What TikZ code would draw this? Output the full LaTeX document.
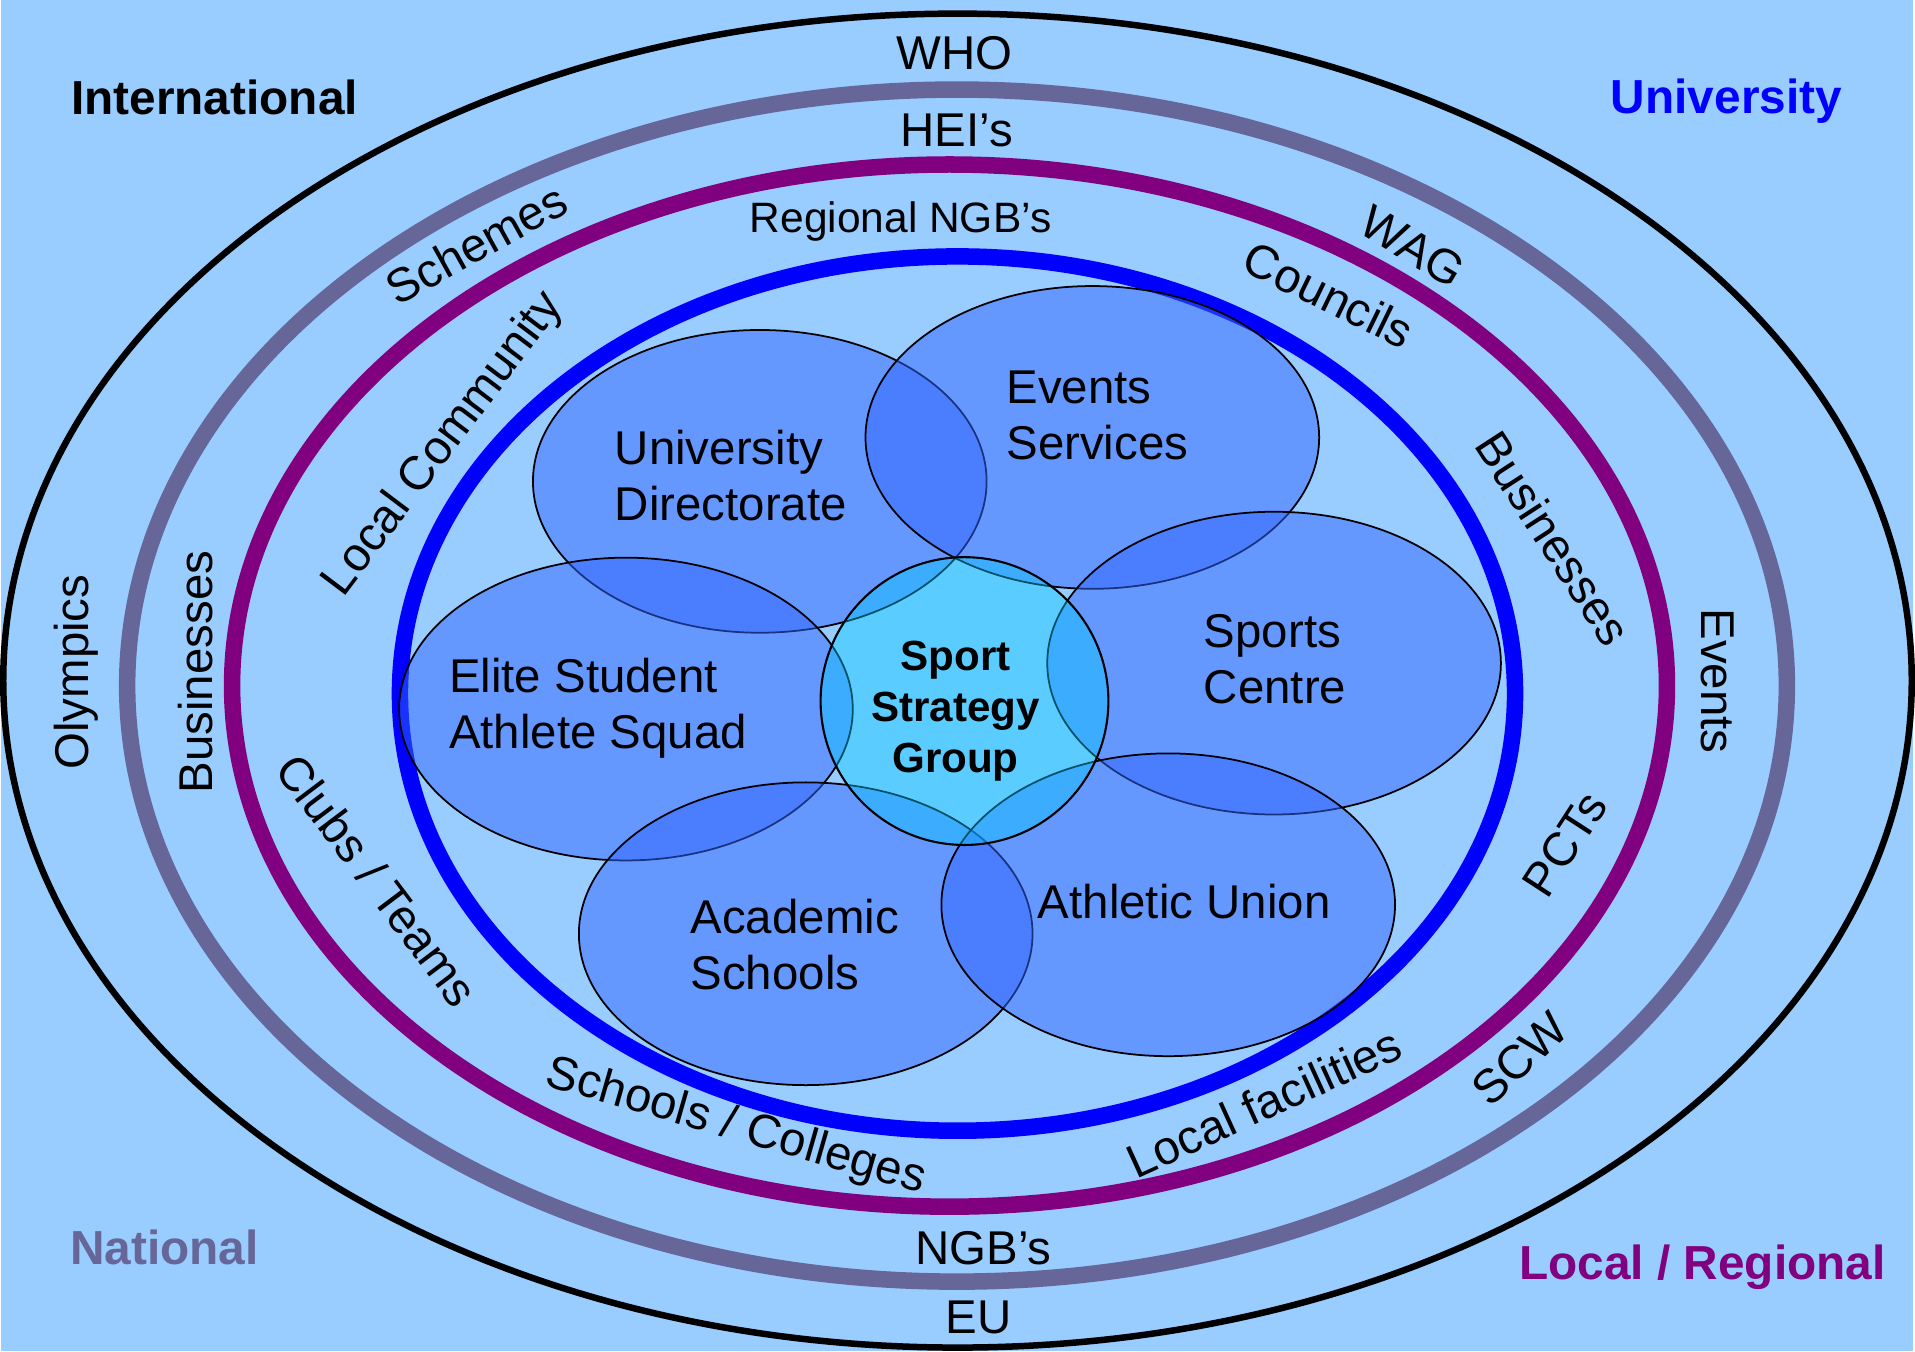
\documentclass[tikz,border=0pt]{standalone}
\usepackage{fontspec}
\setmainfont{Liberation Sans}
\definecolor{bg}{HTML}{99CCFF}
\definecolor{natgray}{HTML}{666699}
\definecolor{regpurple}{HTML}{800080}
\definecolor{uniblue}{HTML}{0000FF}
\definecolor{unitfill}{HTML}{3366FF}
\definecolor{corefill}{HTML}{00CCFF}
\tikzset{
  ring/.style={line width=4.7pt},
  lbl/.style={font=\fontsize{13.5}{15.5}\selectfont, inner sep=0pt},
  hdr/.style={font=\fontsize{13.6}{16}\selectfont\bfseries, inner sep=0pt},
  unit/.style={draw=black, line width=0.5pt, fill=unitfill, fill opacity=0.5},
  unittxt/.style={font=\fontsize{13.5}{15.9}\selectfont, align=left, inner sep=0pt},
  core/.style={draw=black, line width=0.6pt, fill=corefill, fill opacity=0.4},
  coretxt/.style={font=\fontsize{12}{14.5}\selectfont\bfseries, align=center, inner sep=0pt}
}

\begin{document}
\begin{tikzpicture}[x=0.01cm, y=-0.01cm]
  % background, fixes the page size
  \path[fill=bg] (0,0) rectangle (1915,1353);

  % rings
  \draw[line width=1.85pt] (958,681.5) ellipse [x radius=9.55cm, y radius=6.675cm];
  \draw[ring, natgray] (957.5,686.5) ellipse [x radius=8.305cm, y radius=5.965cm];
  \draw[ring, regpurple] (950,686.5) ellipse [x radius=7.18cm, y radius=5.215cm];
  \draw[ring, uniblue] (958,694.5) ellipse [x radius=5.58cm, y radius=4.375cm];

  % corner headers
  \node[hdr] (intl) at (214,98) {International};
  \node[hdr, text=uniblue] (univ) at (1728,101) {University};
  \node[hdr, text=natgray] (natl) at (164,1249) {National};
  \node[hdr, text=regpurple] (locreg) at (1704,1269) {Local / Regional};

  % ring labels
  \node[lbl] (who) at (955,53) {WHO};
  \node[lbl] (eu) at (979,1319) {EU};
  \node[lbl, rotate=90] (olymp) at (76,673) {Olympics};
  \node[lbl, rotate=-90] (events) at (1719,682) {Events};
  \node[lbl] (hei) at (957,131) {HEI’s};
  \node[lbl] (ngb) at (984,1250) {NGB’s};
  \node[lbl, rotate=29] (schemes) at (476,244) {Schemes};
  \node[lbl, rotate=90] (busl) at (195,673) {Businesses};
  \node[lbl, rotate=-31] (wag) at (1414,247) {WAG};
  \node[lbl, rotate=43] (scw) at (1521,1060) {SCW};
  \node[lbl, font=\fontsize{12.1}{14}\selectfont] (regngb) at (901,222) {Regional NGB’s};
  \node[lbl, rotate=53] (loccom) at (444,445) {Local Community};
  \node[lbl, rotate=-26] (councils) at (1330,295) {Councils};
  \node[lbl, rotate=-57] (busr) at (1555,539) {Businesses};
  \node[lbl, rotate=57] (pcts) at (1566,845) {PCTs};
  \node[lbl, rotate=24.5] (locfac) at (1265,1104) {Local facilities};
  \node[lbl, rotate=-16] (schools) at (736,1129) {Schools / Colleges};
  \node[lbl, rotate=-53] (clubs) at (377,881) {Clubs / Teams};

  % university units
  \path[unit] (760,482) ellipse [x radius=2.27cm, y radius=1.515cm];
  \path[unit] (1093,438) ellipse [x radius=2.27cm, y radius=1.515cm];
  \path[unit] (626,710) ellipse [x radius=2.27cm, y radius=1.515cm];
  \path[unit] (1275,664) ellipse [x radius=2.27cm, y radius=1.515cm];
  \path[unit] (806,935) ellipse [x radius=2.27cm, y radius=1.515cm];
  \path[unit] (1169,906) ellipse [x radius=2.27cm, y radius=1.515cm];
  \path[core] (965,702) circle [radius=1.44cm];

  \node[unittxt] (dir) at (731,476) {University\\Directorate};
  \node[unittxt] (evs) at (1098,416) {Events\\Services};
  \node[unittxt] (spc) at (1276,660) {Sports\\Centre};
  \node[unittxt] (au) at (1185,903) {Athletic Union};
  \node[unittxt] (acs) at (795,946) {Academic\\Schools};
  \node[unittxt] (elite) at (598,709) {Elite Student\\Athlete Squad};
  \node[coretxt] (ssg) at (956,712) {Sport\\Strategy\\Group};
\end{tikzpicture}
\end{document}
